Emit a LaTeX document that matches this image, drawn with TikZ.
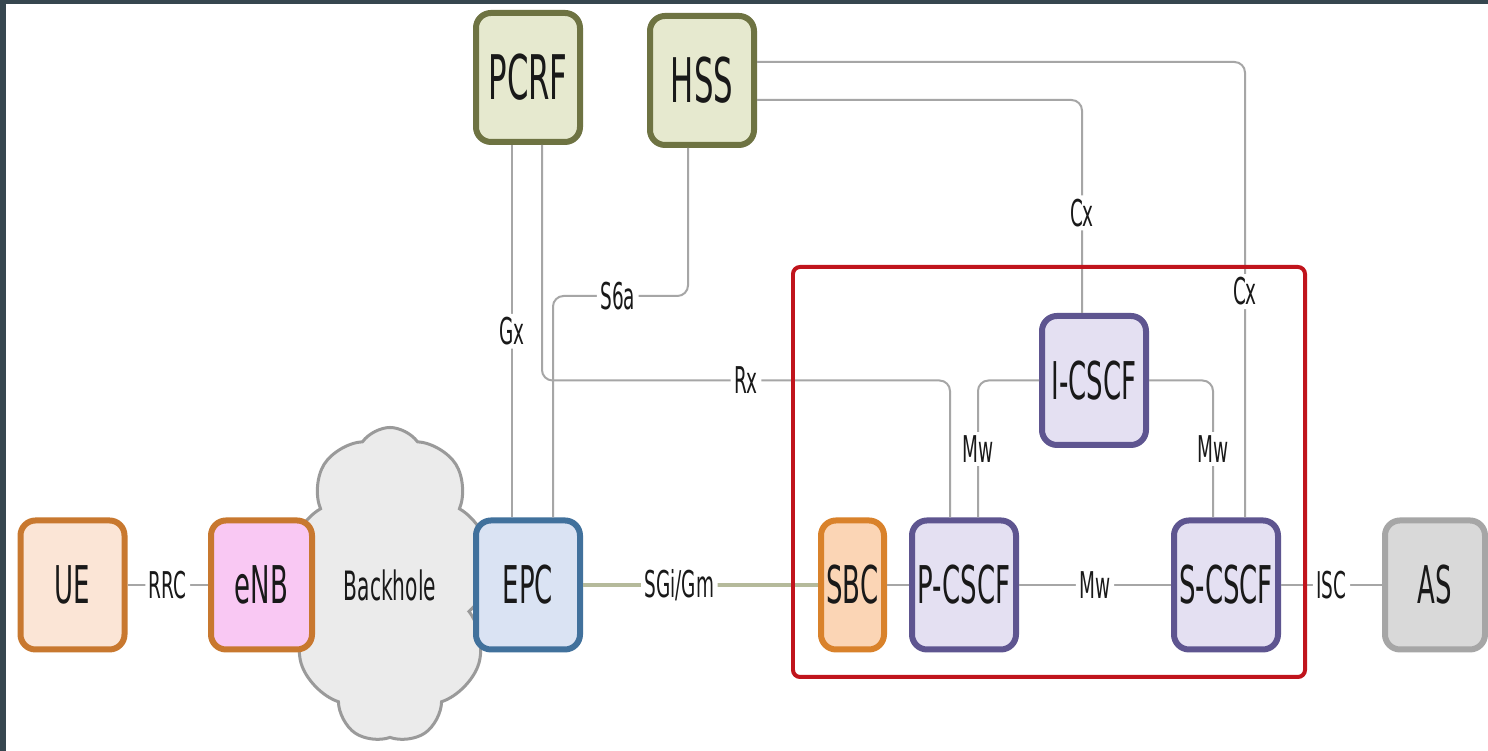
\documentclass[tikz,border=0pt]{standalone}
\usepackage{fontspec}
\setmainfont{DejaVu Sans}[FakeStretch=0.5]
\usetikzlibrary{shapes.symbols}

\definecolor{frame}{HTML}{36464F}
\definecolor{olive}{HTML}{6E7342}
\definecolor{olivefill}{HTML}{E6E9CF}
\definecolor{uecol}{HTML}{C8782F}
\definecolor{uefill}{HTML}{FBE5D6}
\definecolor{enbfill}{HTML}{F9C8F3}
\definecolor{epccol}{HTML}{41719C}
\definecolor{epcfill}{HTML}{DAE3F3}
\definecolor{sbccol}{HTML}{D9822B}
\definecolor{sbcfill}{HTML}{FBD5B5}
\definecolor{cscfcol}{HTML}{5E5590}
\definecolor{cscffill}{HTML}{E4E0F2}
\definecolor{ascol}{HTML}{A6A6A6}
\definecolor{asfill}{HTML}{D9D9D9}
\definecolor{imsred}{HTML}{C0141C}
\definecolor{linkgray}{HTML}{A6A6A6}
\definecolor{sgicol}{HTML}{B5BA9B}
\definecolor{cloudfill}{HTML}{EBEBEB}
\definecolor{cloudline}{HTML}{9A9A9A}

\begin{document}
\begin{tikzpicture}[
  box/.style={draw, rounded corners=0.15cm, line width=0.06cm, minimum width=1.04cm,
    minimum height=1.29cm, inner sep=0pt, text=black!90, font=\fontsize{14.8}{16}\selectfont},
  topbox/.style={box, draw=olive, fill=olivefill, font=\fontsize{17.5}{19}\selectfont},
  cscf/.style={box, draw=cscfcol, fill=cscffill},
  link/.style={draw=linkgray, line width=0.02cm, rounded corners=3pt},
  lbl/.style={fill=white, inner sep=1pt, text=black!90, font=\fontsize{10.5}{12}\selectfont}
]
\useasboundingbox (0,0) rectangle (14.88,7.51);
\fill[frame] (0,0) rectangle (14.88,7.51);
\fill[white] (0.06,0) rectangle (14.88,7.47);

% backhaul cloud
\node[cloud, cloud puffs=9, cloud puff arc=110, cloud ignores aspect, minimum width=2.05cm,
  minimum height=3.15cm, fill=cloudfill, draw=cloudline, line width=0.03cm, text=black!90,
  font=\fontsize{11.5}{13}\selectfont] (backhole) at (3.90,1.66) {Backhole};

\node[topbox] (pcrf) at (5.28,6.735) {PCRF};
\node[topbox] (hss) at (7.02,6.705) {HSS};

\node[box, draw=uecol, fill=uefill] (ue) at (0.725,1.66) {UE};
\node[box, draw=uecol, fill=enbfill, minimum width=1.01cm] (enb) at (2.615,1.66) {eNB};
\node[box, draw=epccol, fill=epcfill] (epc) at (5.28,1.66) {EPC};
\node[box, draw=sbccol, fill=sbcfill, minimum width=0.63cm] (sbc) at (8.525,1.66) {SBC};
\node[cscf] (pcscf) at (9.64,1.66) {P-CSCF};
\node[cscf] (icscf) at (10.94,3.705) {I-CSCF};
\node[cscf] (scscf) at (12.26,1.66) {S-CSCF};
\node[box, draw=ascol, fill=asfill, minimum width=1.0cm] (as) at (14.35,1.66) {AS};

% bottom row
\draw[link] (ue) -- node[lbl]{RRC} (enb);
\draw[link, draw=sgicol, line width=0.035cm] (epc) -- node[lbl, pos=0.41]{SGi/Gm} (sbc);
\draw[link] (sbc) -- (pcscf);
\draw[link] (pcscf) -- node[lbl]{Mw} (scscf);
\draw[link] (scscf) -- node[lbl]{ISC} (as);

% PCRF and HSS
\draw[link] ([xshift=-0.16cm]pcrf.south) -- node[lbl]{Gx} ([xshift=-0.16cm]epc.north);
\draw[link] ([xshift=0.14cm]pcrf.south) |- node[lbl, pos=0.75]{Rx}
  ([xshift=-0.14cm]pcscf.north |- icscf.west) -- ([xshift=-0.14cm]pcscf.north);
\draw[link] ([xshift=-0.14cm]hss.south) -- ++(0,-1.48) -| node[lbl, pos=0.26]{S6a}
  ([xshift=0.25cm]epc.north);
\draw[link] ([yshift=-0.195cm]hss.east) -| node[lbl, pos=0.765]{Cx} ([xshift=-0.12cm]icscf.north);
\draw[link] ([yshift=0.185cm]hss.east) -| node[lbl, pos=0.752]{Cx} ([xshift=0.19cm]scscf.north);

% inside IMS
\draw[link] (icscf.west) -| node[lbl, pos=0.75]{Mw} ([xshift=0.14cm]pcscf.north);
\draw[link] (icscf.east) -| node[lbl, pos=0.75]{Mw} ([xshift=-0.13cm]scscf.north);

\draw[imsred, line width=0.04cm, rounded corners=2pt] (7.93,0.74) rectangle (13.05,4.84);
\end{tikzpicture}
\end{document}
